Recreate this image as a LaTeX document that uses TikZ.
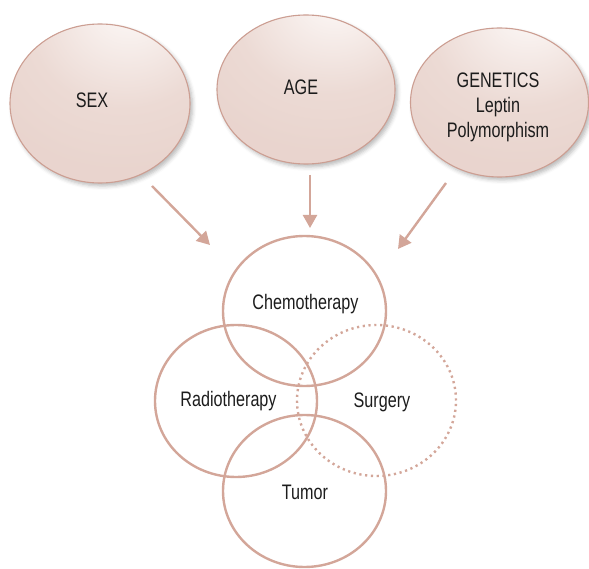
\documentclass[tikz,border=0pt]{standalone}
\usepackage{fontspec}
\setmainfont{Liberation Sans}[FakeStretch=0.77]
\usetikzlibrary{shapes.geometric,arrows.meta,shadows.blur}
\definecolor{rosy}{RGB}{211,166,153}
\definecolor{rosyedge}{RGB}{204,158,146}
\definecolor{txt}{RGB}{28,28,28}
\pgfdeclareradialshading{ballshade}{\pgfpoint{9bp}{33bp}}{rgb(0bp)=(1,1,1); rgb(4bp)=(0.985,0.965,0.958); rgb(26bp)=(0.925,0.855,0.832); rgb(40bp)=(0.913,0.833,0.808); rgb(100bp)=(0.905,0.822,0.796)}
\tikzset{
  ball/.style={ellipse, draw=rosyedge, line width=1.1pt, shading=ballshade,
    blur shadow={shadow xshift=2.5pt, shadow yshift=-3pt, shadow blur radius=4pt, shadow opacity=28},
    inner sep=0pt},
  ring/.style={ellipse, draw=rosy, line width=2.4pt, inner sep=0pt},
  dotring/.style={ring, dash pattern=on 2.2pt off 3.6pt},
  lab/.style={text=txt, font=\fontsize{21}{25}\selectfont, align=center, inner sep=0pt},
  arr/.style={draw=rosy, line width=2.4pt, -{Triangle[length=13pt,width=14pt]}}
}
\begin{document}
\begin{tikzpicture}[x=1pt,y=-1pt]
\useasboundingbox (0,0) rectangle (589,569);
% top ellipses
\node[ball, minimum width=180pt, minimum height=159pt] (sex) at (100,103.5) {};
\node[ball, minimum width=178pt, minimum height=149pt] (age) at (306,89.5) {};
\node[ball, minimum width=178pt, minimum height=149pt] (gen) at (499.5,102.5) {};
\node[lab] (sext) at (92,100) {SEX};
\node[lab] (aget) at (301,87.5) {AGE};
\node[lab] (gent) at (498,107) {GENETICS\\Leptin\\Polymorphism};
% circles
\node[ring, minimum width=163pt, minimum height=150pt] (chemo) at (304.5,311) {};
\node[ring, minimum width=162pt, minimum height=152pt] (radio) at (236,401) {};
\node[dotring, minimum width=159pt, minimum height=151pt] (surg) at (376.5,400.5) {};
\node[ring, minimum width=163pt, minimum height=152pt] (tumor) at (304.5,491) {};
\node[lab] (chemot) at (305.5,304) {Chemotherapy};
\node[lab] (radiot) at (228.5,401.5) {Radiotherapy};
\node[lab] (surgt) at (382,402) {Surgery};
\node[lab] (tumort) at (305,492) {Tumor};
% arrows
\coordinate (a1s) at (152,186);
\coordinate (a1e) at (210,245);
\coordinate (a2s) at (310,175);
\coordinate (a2e) at (310,228);
\coordinate (a3s) at (446,183);
\coordinate (a3e) at (398,249);
\draw[arr] (a1s) -- (a1e);
\draw[arr] (a2s) -- (a2e);
\draw[arr] (a3s) -- (a3e);
\end{tikzpicture}
\end{document}
